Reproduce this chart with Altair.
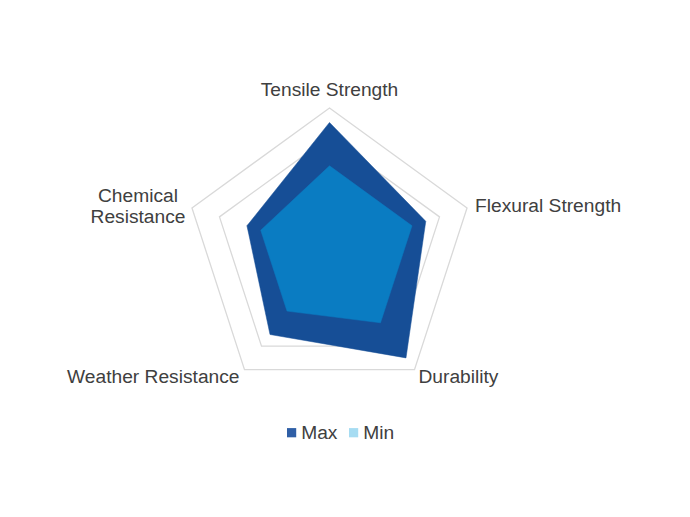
import math
import altair as alt
import pandas as pd

# ---- data ----
categories = ["Tensile Strength", "Flexural Strength", "Durability",
              "Weather Resistance", "Chemical Resistance"]
max_vals = [9, 7, 9, 7, 6]
min_vals = [6, 6, 6, 5, 5]
grid_levels = [2, 4, 6, 8, 10]
series_names = ["Max", "Min"]

# ---- layout ----
W, H = 674, 501
CX, CY, RPX = 321.5, 244.6, 144.6  # centre (px) and radius of value 10 (px)
RMAX = 10
k = RPX / RMAX
x_dom = [-CX / k, (W - CX) / k]
y_dom = [-(H - CY) / k, CY / k]
n = len(categories)
FS = 19.2

rows = []
for s, vals in zip(series_names, [max_vals, min_vals]):
    for i, (c, v) in enumerate(zip(categories, vals)):
        rows.append({"series": s, "category": c, "idx": i, "value": v})
df = pd.DataFrame(rows)

grid_rows = []
for lv in grid_levels:
    for i, c in enumerate(categories):
        grid_rows.append({"level": lv, "category": c, "idx": i, "value": lv})
gdf = pd.DataFrame(grid_rows)

lab_df = pd.DataFrame({"category": categories, "idx": list(range(n)),
                       "value": [RMAX] * n,
                       "label": [c if c != "Chemical Resistance" else "Chemical\nResistance" for c in categories]})

xs = alt.Scale(domain=x_dom, nice=False, zero=False)
ys = alt.Scale(domain=y_dom, nice=False, zero=False)


def polar(ch):
    return ch.transform_calculate(
        ang=f"datum.idx * 2 * PI / {n}"
    ).transform_calculate(
        px="datum.value * sin(datum.ang)",
        py="datum.value * cos(datum.ang)",
    )


def enc(ch, **kw):
    return ch.encode(
        x=alt.X("px:Q", scale=xs, axis=None),
        y=alt.Y("py:Q", scale=ys, axis=None),
        **kw,
    )


grid = enc(polar(alt.Chart(gdf).mark_line(
    interpolate="linear-closed", stroke="#D9D9D9", strokeWidth=1.3)),
    order=alt.Order("idx:Q"), detail="level:N")

max_poly = enc(polar(alt.Chart(df).transform_filter("datum.series == 'Max'").mark_line(
    interpolate="linear-closed", fill="#164E96", stroke="#164E96", strokeWidth=0.5)),
    order=alt.Order("idx:Q"))

min_poly = enc(polar(alt.Chart(df).transform_filter("datum.series == 'Min'").mark_line(
    interpolate="linear-closed", fill="#0A7CC2", stroke="#0A7CC2", strokeWidth=0.5)),
    order=alt.Order("idx:Q"))

legend_pts = enc(polar(alt.Chart(df)).mark_point(opacity=0, filled=True, shape="square"),
                 color=alt.Color("series:N",
                                 scale=alt.Scale(domain=series_names, range=["#2F5FA6", "#A6DCF2"]),
                                 legend=alt.Legend(title=None, orient="none", direction="horizontal",
                                                   legendX=274, legendY=415,
                                                   symbolType="square", symbolSize=85,
                                                   symbolOpacity=1, symbolStrokeWidth=0,
                                                   labelFontSize=FS, labelFont="Liberation Sans",
                                                   labelColor="#404040", labelOffset=0,
                                                   columnPadding=6)))

label_specs = [
    ("Tensile Strength", "center", 0, -18, "label"),
    ("Flexural Strength", "left", 8, -2, "label"),
    ("Durability", "left", 4, 7, "label"),
    ("Weather Resistance", "right", -5, 7, "label"),
    ("Chemical Resistance", "center", -54, -12, "label"),
]
labels = []
for cat, al, dx, dy, fld in label_specs:
    labels.append(enc(polar(alt.Chart(lab_df).transform_filter(f"datum.category == '{cat}'")).mark_text(
        align=al, baseline="middle", dx=dx, dy=dy, fontSize=FS, font="Liberation Sans",
        color="#404040", lineBreak="\n", lineHeight=21), text=f"{fld}:N"))

chart = alt.layer(grid, max_poly, min_poly, legend_pts, *labels).properties(
    width=W, height=H, autosize=alt.AutoSizeParams(type="none"), padding=0,
    background="white",
).configure_view(stroke=None)

chart.save("out.html", embed_options={"renderer": "svg", "actions": False})
